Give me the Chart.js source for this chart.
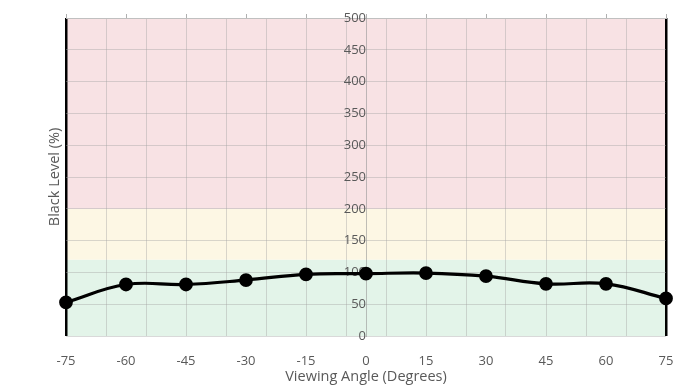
<!DOCTYPE html>
<html>
<head>
<meta charset="utf-8">
<script src="https://cdn.jsdelivr.net/npm/chart.js@4/dist/chart.umd.min.js"></script>
<style>
  body { margin: 0; background: #fff; }
  #wrap { width: 691px; height: 390px; }
</style>
</head>
<body>
<div id="wrap"><canvas id="chart"></canvas></div>
<script>
// measured values
const angles = [-75, -60, -45, -30, -15, 0, 15, 30, 45, 60, 75];
const blackLevel = [53, 81, 81, 88, 97, 98, 99, 94, 82, 82, 59];

// axis ticks / grid
const tickAngles = [-75, -60, -45, -30, -15, 0, 15, 30, 45, 60, 75];
const gridAngles = [-75, -65, -55, -45, -35, -25, -15, -5, 5, 15, 25, 35, 45, 55, 65, 75];
const yMax = 500;
const yStep = 50;

// coloured zones (green / yellow / red)
const zoneLimits = [0, 120, 200, 500];
const zoneColors = ["#e3f4e9", "#fdf7e4", "#f8e2e4"];

const labelColor = "#595959";
const gridColor = "rgba(165,165,165,0.42)";

const allTicks = [...new Set([...tickAngles, ...gridAngles])].sort((a, b) => a - b);

const zonesPlugin = {
  id: "zones",
  beforeDraw(chart) {
    const { ctx, chartArea } = chart;
    const y = chart.scales.y;
    ctx.save();
    for (let i = 0; i < zoneColors.length; i++) {
      const top = y.getPixelForValue(zoneLimits[i + 1]);
      const bottom = y.getPixelForValue(zoneLimits[i]);
      ctx.fillStyle = zoneColors[i];
      ctx.fillRect(chartArea.left, top, chartArea.right - chartArea.left, bottom - top);
    }
    ctx.restore();
  },
};

new Chart(document.getElementById("chart"), {
  type: "line",
  data: {
    datasets: [
      {
        data: angles.map((a, i) => ({ x: a, y: blackLevel[i] })),
        borderColor: "#000",
        backgroundColor: "#000",
        borderWidth: 3.2,
        pointRadius: 5.3,
        pointHoverRadius: 5.3,
        tension: 0.4,
        clip: false,
      },
    ],
  },
  options: {
    responsive: true,
    maintainAspectRatio: false,
    animation: false,
    layout: { padding: { top: 14, right: 25, left: 0, bottom: 0 } },
    plugins: { legend: { display: false }, tooltip: { enabled: false } },
    scales: {
      x: {
        type: "linear",
        min: -75,
        max: 75,
        afterBuildTicks: (s) => {
          s.ticks = allTicks.map((v) => ({ value: v }));
        },
        afterFit: (s) => {
          s.height = 54;
        },
        ticks: {
          autoSkip: false,
          maxRotation: 0,
          padding: 17,
          color: labelColor,
          font: { family: "Open Sans", size: 13 },
          callback: (v) => (tickAngles.includes(v) ? String(v) : ""),
        },
        grid: {
          drawTicks: false,
          color: (ctx) => {
            const v = ctx.tick && ctx.tick.value;
            if (v === -75 || v === 75) return "#000";
            return gridAngles.includes(v) ? gridColor : "rgba(0,0,0,0)";
          },
          lineWidth: (ctx) => {
            const v = ctx.tick && ctx.tick.value;
            return v === -75 || v === 75 ? 2.5 : 1;
          },
        },
        border: { display: false },
        title: {
          display: true,
          text: "Viewing Angle (Degrees)",
          color: labelColor,
          font: { family: "Open Sans", size: 14.5 },
          padding: { top: 0, bottom: 4 },
        },
      },
      xTop: {
        type: "linear",
        position: "top",
        min: -75,
        max: 75,
        afterBuildTicks: (s) => {
          s.ticks = tickAngles.map((v) => ({ value: v }));
        },
        afterFit: (s) => {
          s.height = 4;
        },
        ticks: { display: false },
        grid: { drawOnChartArea: false, tickLength: 4, color: "#b0b0b0" },
        border: { color: "#c0c0c0" },
      },
      y: {
        type: "linear",
        min: 0,
        max: yMax,
        position: { x: 0 },
        afterFit: (s) => {
          s.paddingTop = 0;
          s.paddingBottom = 0;
        },
        ticks: {
          stepSize: yStep,
          padding: 14,
          color: labelColor,
          font: { family: "Open Sans", size: 13 },
        },
        grid: { drawTicks: false, color: gridColor },
        border: { color: "rgba(150,150,150,0.6)" },
      },
      yTitle: {
        type: "linear",
        position: "left",
        grid: { display: false },
        ticks: { display: false },
        border: { display: false },
        afterFit: (s) => {
          s.width = 66;
        },
        title: {
          display: true,
          text: "Black Level (%)",
          color: labelColor,
          font: { family: "Open Sans", size: 14.5 },
          padding: { top: 46, bottom: 0 },
        },
      },
    },
  },
  plugins: [zonesPlugin],
});
</script>
</body>
</html>
